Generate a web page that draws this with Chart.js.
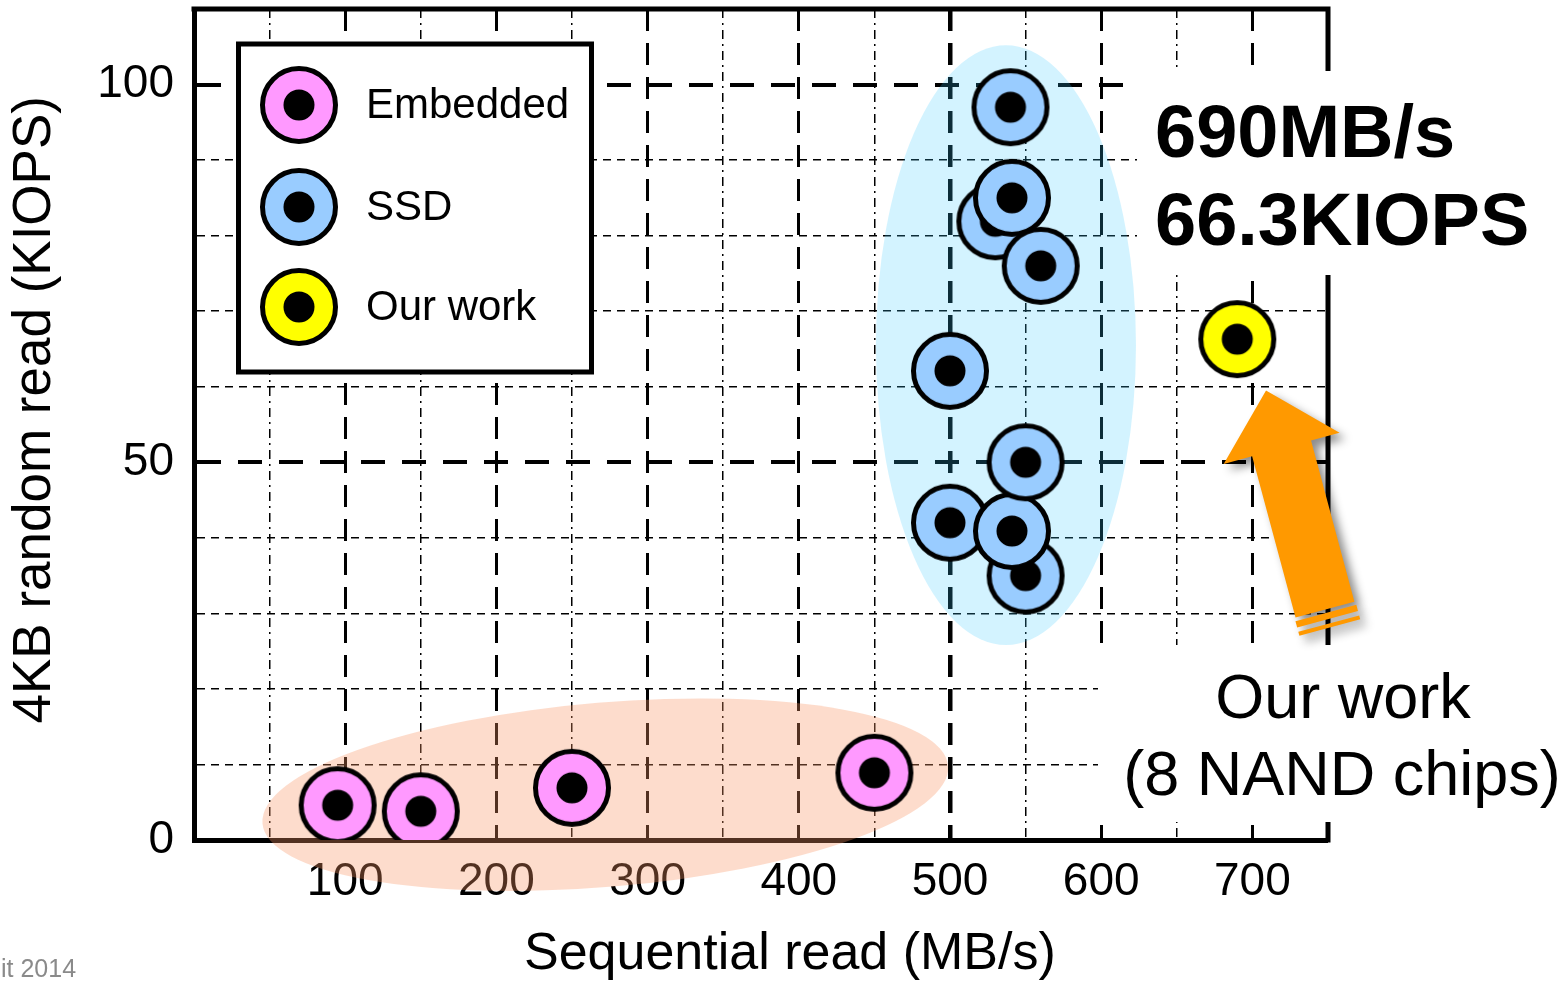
<!DOCTYPE html>
<html><head><meta charset="utf-8">
<script src="https://cdn.jsdelivr.net/npm/chart.js@4/dist/chart.umd.min.js"></script>
<style>html,body{margin:0;padding:0;background:#fff;overflow:hidden}#wrap{width:1568px;height:982px}</style>
</head><body><div id="wrap"><canvas id="c" width="1568" height="982"></canvas></div>
<script>
const FONT = '"Liberation Sans", Arial, Helvetica, sans-serif';

// ---- data ----
const seriesNames = ['Embedded', 'SSD', 'Our work'];
const embeddedX = [95, 150, 250, 450];
const embeddedY = [4.6, 3.8, 6.9, 8.9];
const ssdX = [540, 530, 541, 560, 500, 550, 500, 541, 550];
const ssdY = [97, 81.9, 85, 76, 62.1, 35, 42, 40.9, 50];
const ourX = [690];
const ourY = [66.3];
const xTickLabels = [100, 200, 300, 400, 500, 600, 700];
const yTickLabels = [0, 50, 100];
const xTitle = 'Sequential read (MB/s)';
const yTitle = '4KB random read (KIOPS)';
const calloutLines = ['690MB/s', '66.3KIOPS'];
const noteLines = ['Our work', '(8 NAND chips)'];
const footerText = 'it 2014';

// ---- styles ----
const seriesColors = ['#FF99FF', '#99CCFF', '#FFFF00'];

function makeMarker(fill) {
  const c = document.createElement('canvas');
  c.width = 80; c.height = 80;
  const g = c.getContext('2d');
  g.beginPath(); g.arc(40, 40, 36.5, 0, Math.PI * 2);
  g.fillStyle = fill; g.fill();
  g.lineWidth = 5; g.strokeStyle = '#000'; g.stroke();
  g.beginPath(); g.arc(40, 40, 15.5, 0, Math.PI * 2);
  g.fillStyle = '#000'; g.fill();
  return c;
}
const markers = seriesColors.map(makeMarker);

function pts(xs, ys) { return xs.map((v, i) => ({x: v, y: ys[i]})); }

const annot = {
  id: 'annot',
  beforeDatasetsDraw(chart) {
    const {ctx, chartArea: a, scales: {x, y}} = chart;
    ctx.save();
    // frame (top, right)
    ctx.strokeStyle = '#000'; ctx.lineWidth = 5; ctx.lineCap = 'square';
    ctx.beginPath(); ctx.moveTo(a.left, a.top); ctx.lineTo(a.right, a.top); ctx.lineTo(a.right, a.bottom); ctx.stroke();
    // blue group ellipse (data units)
    {
      const cx = x.getPixelForValue(537), cy = y.getPixelForValue(65.5);
      const rx = x.getPixelForValue(537 + 86) - cx, ry = cy - y.getPixelForValue(65.5 + 39.7);
      ctx.beginPath(); ctx.ellipse(cx, cy, rx, ry, 0, 0, Math.PI * 2);
      ctx.fillStyle = 'rgba(55,200,255,0.22)'; ctx.fill();
    }
    // peach group ellipse
    {
      const cx = x.getPixelForValue(272), cy = y.getPixelForValue(6.0);
      const rx = x.getPixelForValue(272 + 227.5) - cx, ry = cy - y.getPixelForValue(6.0 + 12.2);
      ctx.beginPath(); ctx.ellipse(cx, cy, rx, ry, -4.8 * Math.PI / 180, 0, Math.PI * 2);
      ctx.fillStyle = 'rgba(248,150,100,0.33)'; ctx.fill();
    }
    // white backgrounds behind annotations
    ctx.fillStyle = '#fff';
    ctx.fillRect(1137, 71, 431, 204);
    ctx.fillRect(1098, 645, 470, 177);
    ctx.restore();
  },
  afterDraw(chart) {
    const {ctx, scales: {x, y}} = chart;
    ctx.save();
    // legend
    ctx.fillStyle = '#fff'; ctx.fillRect(238.5, 44, 353, 328);
    ctx.lineWidth = 5; ctx.strokeStyle = '#000'; ctx.strokeRect(238.5, 44, 353, 328);
    const ly = [105, 207, 307];
    ctx.font = '42px ' + FONT; ctx.fillStyle = '#000'; ctx.textBaseline = 'middle'; ctx.textAlign = 'left';
    seriesNames.forEach((n, i) => {
      ctx.drawImage(markers[i], 299 - 40, ly[i] - 40);
      ctx.fillText(n, 366, ly[i] + 1);
    });
    // arrow (data units -> pixels)
    const tip = {x: x.getPixelForValue(709), y: y.getPixelForValue(59.5)};
    const tail = {x: x.getPixelForValue(748), y: y.getPixelForValue(30.5)};
    let dx = tip.x - tail.x, dy = tip.y - tail.y;
    const L = Math.hypot(dx, dy); dx /= L; dy /= L;
    const px = -dy, py = dx;
    const P = (d, w) => [tail.x + dx * d + px * w, tail.y + dy * d + py * w];
    const sw = 30.5, hw = 60, hl = 60;
    const shape = [P(0, -sw), P(L - hl, -sw), P(L - hl, -hw), [tip.x, tip.y], P(L - hl, hw), P(L - hl, sw), P(0, sw)];
    ctx.save();
    ctx.shadowColor = 'rgba(0,0,0,0.45)'; ctx.shadowBlur = 10; ctx.shadowOffsetX = 6; ctx.shadowOffsetY = 6;
    ctx.fillStyle = '#FF9900';
    ctx.beginPath(); shape.forEach((p, i) => i ? ctx.lineTo(p[0], p[1]) : ctx.moveTo(p[0], p[1])); ctx.closePath(); ctx.fill();
    [[-3.5, -10], [-14.5, -18.5]].forEach(([d1, d2]) => {
      const s = [P(d1, -31.5), P(d1, 31.5), P(d2, 31.5), P(d2, -31.5)];
      ctx.beginPath(); s.forEach((p, i) => i ? ctx.lineTo(p[0], p[1]) : ctx.moveTo(p[0], p[1])); ctx.closePath(); ctx.fill();
    });
    ctx.restore();
    // callout text
    ctx.fillStyle = '#000'; ctx.textBaseline = 'alphabetic';
    ctx.font = 'bold 74px ' + FONT; ctx.textAlign = 'left';
    ctx.fillText(calloutLines[0], 1155, 157);
    ctx.fillText(calloutLines[1], 1155, 245);
    ctx.font = '63px ' + FONT; ctx.textAlign = 'center';
    ctx.fillText(noteLines[0], 1343, 718);
    ctx.fillText(noteLines[1], 1342, 795);
    // footer
    ctx.font = '25px ' + FONT; ctx.fillStyle = '#8a8a8a'; ctx.textAlign = 'left';
    ctx.fillText(footerText, 1, 977);
    ctx.restore();
  }
};

new Chart(document.getElementById('c'), {
  type: 'scatter',
  data: {
    datasets: [
      {label: seriesNames[0], data: pts(embeddedX, embeddedY), pointStyle: markers[0], pointRadius: 38},
      {label: seriesNames[1], data: pts(ssdX, ssdY), pointStyle: markers[1], pointRadius: 38},
      {label: seriesNames[2], data: pts(ourX, ourY), pointStyle: markers[2], pointRadius: 38}
    ]
  },
  options: {
    responsive: false,
    devicePixelRatio: 1,
    animation: false,
    events: [],
    layout: {autoPadding: false, padding: {left: 0, right: 240, top: 9, bottom: 0}},
    plugins: {legend: {display: false}, tooltip: {enabled: false}},
    scales: {
      x: {
        type: 'linear', min: 0, max: 750,
        afterFit(s) { s.height = 142; s.paddingLeft = 0; s.paddingRight = 0; },
        ticks: {
          stepSize: 50, autoSkip: false, maxRotation: 0, padding: 15, color: '#000',
          font: {family: FONT, size: 46},
          callback: v => xTickLabels.includes(v) ? String(v) : ''
        },
        grid: {
          drawTicks: false, color: '#000',
          lineWidth: c => {
            const v = c.tick ? c.tick.value : 0;
            if (v <= 0 || v >= 750) return 0;
            if (v % 100 === 0) return v === 500 ? 4.5 : 3;
            return 1.5;
          }
        },
        border: {
          display: true, width: 5, color: '#000',
          dash: c => {
            const v = c.tick ? c.tick.value : 0;
            return (v % 100 === 0) ? [22, 12] : [9, 5, 2, 5];
          }
        },
        title: {display: true, text: '    ' + xTitle, color: '#000', font: {family: FONT, size: 52, lineHeight: 1.0}, padding: {top: 0, bottom: 1}}
      },
      y: {
        type: 'linear', min: 0, max: 110,
        afterFit(s) { s.width = 194; s.paddingTop = 0; s.paddingBottom = 0; },
        ticks: {
          stepSize: 10, autoSkip: false, padding: 20, color: '#000',
          font: {family: FONT, size: 46},
          callback: v => yTickLabels.includes(v) ? String(v) : ''
        },
        grid: {
          drawTicks: false, color: '#000',
          lineWidth: c => {
            const v = c.tick ? c.tick.value : 0;
            if (v <= 0 || v >= 110) return 0;
            if (v % 50 === 0) return 4;
            return 1.5;
          }
        },
        border: {
          display: true, width: 5, color: '#000',
          dash: c => {
            const v = c.tick ? c.tick.value : 0;
            return (v % 50 === 0) ? [24, 17] : [8, 6];
          }
        },
        title: {display: true, text: '  ' + yTitle, color: '#000', font: {family: FONT, size: 53}, padding: {top: 4, bottom: 0}}
      }
    }
  },
  plugins: [annot]
});
</script>
</body></html>
